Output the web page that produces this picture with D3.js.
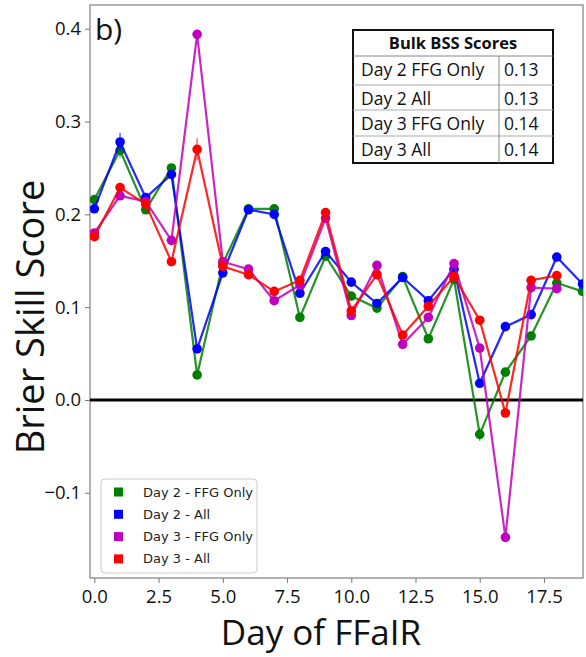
<!DOCTYPE html>
<html><head><meta charset="utf-8">
<script src="https://cdn.jsdelivr.net/npm/d3@7"></script>
<style>body{margin:0;background:#fff}svg{display:block}</style>
</head><body>
<script>
const days = [0,1,2,3,4,5,6,7,8,9,10,11,12,13,14,15,16,17,18,19];
const day2FFG = [0.216,0.269,0.205,0.250,0.027,0.147,0.206,0.206,0.089,0.155,0.112,0.099,0.133,0.066,0.130,-0.037,0.030,0.069,0.126,0.117];
const day2All = [0.206,0.278,0.218,0.243,0.055,0.137,0.205,0.200,0.115,0.160,0.127,0.104,0.132,0.107,0.141,0.018,0.079,0.092,0.154,0.125];
const day3FFG = [0.180,0.220,0.214,0.172,0.394,0.149,0.141,0.107,0.124,0.196,0.091,0.145,0.060,0.089,0.147,0.056,-0.148,0.121,0.120,null];
const day3All = [0.176,0.229,0.211,0.149,0.270,0.144,0.135,0.117,0.129,0.202,0.096,0.135,0.070,0.101,0.133,0.086,-0.014,0.129,0.134,null];
const day2FFGErr = [0.003,0.008,0.003,0.003,0.003,0.003,0.003,0.003,0.003,0.003,0.003,0.003,0.003,0.003,0.003,0.007,0.003,0.003,0.003,0.003];
const day2AllErr = [0.003,0.010,0.003,0.003,0.003,0.003,0.003,0.003,0.003,0.003,0.003,0.003,0.003,0.003,0.003,0.003,0.003,0.003,0.003,0.003];
const day3FFGErr = [0.003,0.003,0.003,0.003,0.004,0.003,0.003,0.003,0.003,0.003,0.003,0.003,0.003,0.003,0.003,0.003,0.004,0.003,0.003,null];
const day3AllErr = [0.003,0.003,0.003,0.003,0.012,0.003,0.003,0.003,0.003,0.003,0.003,0.003,0.003,0.003,0.003,0.003,0.003,0.003,0.003,null];
const seriesNames = ["Day 2 - FFG Only","Day 2 - All","Day 3 - FFG Only","Day 3 - All"];
const seriesColors = ["#008000","#0000ff","#bf00bf","#ff0000"];
const seriesValues = [day2FFG, day2All, day3FFG, day3All];
const seriesErrors = [day2FFGErr, day2AllErr, day3FFGErr, day3AllErr];
const xTicks = [0,2.5,5,7.5,10,12.5,15,17.5];
const yTicks = [-0.1,0,0.1,0.2,0.3,0.4];
const tableTitle = "Bulk BSS Scores";
const tableRows = ["Day 2 FFG Only","Day 2 All","Day 3 FFG Only","Day 3 All"];
const tableScores = ["0.13","0.13","0.14","0.14"];

const W = 586, H = 657;
const m = {left: 90, top: 5, right: 3, bottom: 79};
const svg = d3.select("body").append("svg").attr("width", W).attr("height", H);
const x = d3.scaleLinear().domain([-0.17, 19.02]).range([m.left, W - m.right]);
const y = d3.scaleLinear().domain([-0.1918, 0.4256]).range([H - m.bottom, m.top]);

svg.append("defs").append("clipPath").attr("id","clip")
  .append("rect").attr("x", m.left).attr("y", m.top)
  .attr("width", W - m.right - m.left).attr("height", H - m.bottom - m.top);

// frame
svg.append("rect").attr("x", m.left).attr("y", m.top)
  .attr("width", W - m.right - m.left).attr("height", H - m.bottom - m.top)
  .attr("fill", "none").attr("stroke", "#999").attr("stroke-width", 1.5);

// axes
const xAxis = svg.append("g").attr("transform", `translate(0,${H - m.bottom})`)
  .call(d3.axisBottom(x).tickValues(xTicks).tickFormat(d3.format(".1f")).tickSize(5).tickPadding(7));
const yAxis = svg.append("g").attr("transform", `translate(${m.left},0)`)
  .call(d3.axisLeft(y).tickValues(yTicks).tickFormat(d3.format(".1f")).tickSize(5).tickPadding(4));
[xAxis, yAxis].forEach(a => {
  a.select(".domain").remove();
  a.selectAll(".tick line").attr("stroke", "#777");
  a.selectAll(".tick text").attr("fill", "#111").style("font-family", "'Open Sans', sans-serif").style("font-size", "18.5px");
});

// zero line
svg.append("line").attr("x1", m.left).attr("x2", W - m.right)
  .attr("y1", y(0)).attr("y2", y(0)).attr("stroke", "#000").attr("stroke-width", 3);

const plot = svg.append("g").attr("clip-path", "url(#clip)");
const line = d3.line().defined(d => d.v !== null).x(d => x(d.d)).y(d => y(d.v));
seriesValues.forEach((vals, i) => {
  const pts = days.map((d, j) => ({d, v: vals[j], e: seriesErrors[i][j]})).filter(p => p.v !== null);
  const g = plot.append("g");
  g.append("path").datum(pts).attr("d", line).attr("fill", "none")
    .attr("stroke", seriesColors[i]).attr("stroke-width", 2.2).attr("stroke-opacity", 0.85);
  g.selectAll("line.err").data(pts).join("line").attr("class","err")
    .attr("x1", p => x(p.d)).attr("x2", p => x(p.d))
    .attr("y1", p => y(p.v - p.e)).attr("y2", p => y(p.v + p.e))
    .attr("stroke", seriesColors[i]).attr("stroke-width", 1.5).attr("stroke-opacity", 0.6);
  g.selectAll("circle").data(pts).join("circle")
    .attr("cx", p => x(p.d)).attr("cy", p => y(p.v)).attr("r", 4.8)
    .attr("fill", seriesColors[i]);
});

// panel label
svg.append("text").attr("x", 95).attr("y", 40).text("b)")
  .style("font-family", "'Open Sans', sans-serif").style("font-size", "30px").attr("fill", "#111");

// axis titles
svg.append("text").attr("x", 321).attr("y", 645).attr("text-anchor", "middle")
  .text("Day of FFaIR").style("font-family", "'Open Sans', sans-serif").style("font-size", "35px")
  .attr("fill", "#111");
svg.append("text").attr("transform", "translate(44,317) rotate(-90)").attr("text-anchor", "middle")
  .text("Brier Skill Score").style("font-family", "'Open Sans', sans-serif").style("font-size", "38px")
  .attr("fill", "#111");

// table
const tx0 = 353, tx1 = 553, tcol = 499;
const rowY = [30, 56, 85, 110, 136, 163];
const tb = svg.append("g");
tb.append("rect").attr("x", tx0).attr("y", rowY[0]).attr("width", tx1 - tx0).attr("height", rowY[5] - rowY[0])
  .attr("fill", "#fff").attr("stroke", "#111").attr("stroke-width", 2);
tb.append("line").attr("x1", tx0).attr("x2", tx1).attr("y1", rowY[1]).attr("y2", rowY[1]).attr("stroke", "#888");
[2,3,4].forEach(k => tb.append("line").attr("x1", tx0).attr("x2", tx1).attr("y1", rowY[k]).attr("y2", rowY[k]).attr("stroke", "#aaa"));
tb.append("line").attr("x1", tcol).attr("x2", tcol).attr("y1", rowY[1]).attr("y2", rowY[5]).attr("stroke", "#888");
tb.append("text").attr("x", (tx0 + tx1) / 2).attr("y", rowY[0] + 19).attr("text-anchor", "middle")
  .text(tableTitle).style("font-family", "'Open Sans', sans-serif").style("font-size", "16.5px").style("font-weight", "bold").attr("fill", "#111");
tableRows.forEach((r, k) => {
  tb.append("text").attr("x", 361).attr("y", rowY[k + 1] + 20).text(r)
    .style("font-family", "'Open Sans', sans-serif").style("font-size", "17.5px").attr("fill", "#111");
  tb.append("text").attr("x", 504).attr("y", rowY[k + 1] + 20).text(tableScores[k])
    .style("font-family", "'Open Sans', sans-serif").style("font-size", "17.5px").attr("fill", "#111");
});

// legend
const lg = svg.append("g");
lg.append("rect").attr("x", 101).attr("y", 479).attr("width", 156).attr("height", 94).attr("rx", 4)
  .attr("fill", "#fff").attr("fill-opacity", 0.8).attr("stroke", "#ccc");
seriesNames.forEach((n, k) => {
  const cy = 492 + k * 22.3;
  lg.append("rect").attr("x", 114).attr("y", cy - 4.5).attr("width", 9).attr("height", 9).attr("fill", seriesColors[k]);
  lg.append("text").attr("x", 143).attr("y", cy + 4.5).text(n)
    .style("font-family", "'DejaVu Sans', sans-serif").style("font-size", "13px").attr("fill", "#222");
});
</script>
</body></html>
